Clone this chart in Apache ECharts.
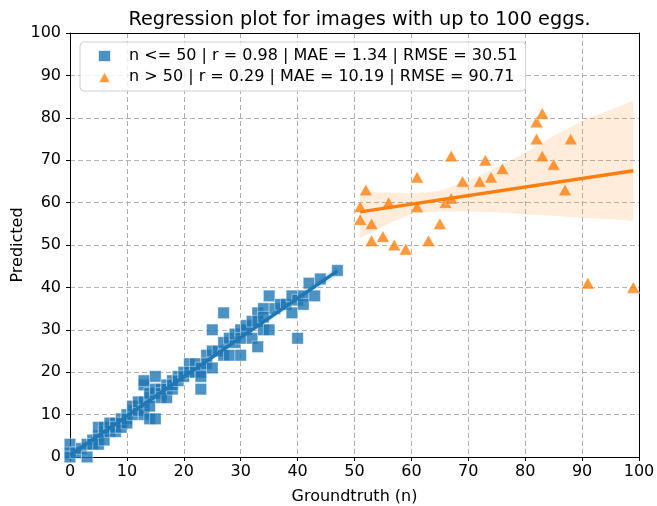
<!DOCTYPE html>
<html><head><meta charset="utf-8">
<script src="https://cdn.jsdelivr.net/npm/echarts@6/dist/echarts.min.js"></script>
<style>html,body{margin:0;padding:0;background:#fff}#c{width:657px;height:506px}</style>
</head><body><div id="c"></div>
<script>
// ---- data ----
const titleText = 'Regression plot for images with up to 100 eggs.';
const lowLabel = 'n <= 50 | r = 0.98 | MAE = 1.34 | RMSE = 30.51';
const highLabel = 'n > 50 | r = 0.29 | MAE = 10.19 | RMSE = 90.71';
const xTicks = [0,10,20,30,40,50,60,70,80,90,100];
const yTicks = [0,10,20,30,40,50,60,70,80,90,100];

const lowX = [0,0,0,1,2,3,3,4,4,5,5,5,6,6,6,7,7,7,8,8,8,9,9,9,10,10,10,11,11,11,12,12,12,13,13,13,13,13,14,14,14,14,15,15,15,15,16,16,16,17,17,17,18,18,18,19,19,20,20,21,21,22,22,23,23,23,23,24,24,25,25,25,26,27,27,27,28,28,29,29,30,30,30,31,31,32,32,33,33,33,34,34,34,35,35,36,37,38,39,39,40,40,41,41,42,43,44,47];
const lowY = [3,1,0,1,2,3,0,4,3,5,7,3,6,4,7,7,6,8,8,6,7,9,8,7,10,9,8,11,10,12,12,11,13,13,17,18,11,10,14,15,9,12,15,9,19,16,16,15,14,17,16,14,18,16,17,19,18,20,19,22,20,22,20,21,20,19,16,24,22,25,30,21,25,27,34,24,28,24,27,29,30,28,24,30,31,32,28,34,26,32,35,30,33,38,30,35,36,36,38,34,37,28,38,36,41,38,42,44];

const highX = [51,51,52,53,53,55,56,57,59,61,61,63,65,66,67,67,69,72,73,74,76,82,82,83,83,85,87,88,91,99];
const highY = [59,56,63,55,51,52,60,50,49,66,59,51,55,60,61,71,65,65,70,66,68,79,75,81,71,69,63,75,41,40];

// confidence band of the n > 50 fit
const bandX = [51,56,60.2,64.7,70.3,75.3,80.4,85.2,90.4,99];
const bandLow = [51.6,55.1,57.5,57.9,57.9,57.7,57.2,56.9,56.4,55.7];
const bandHigh = [62.4,62.4,62.2,62.7,65.3,68.5,72,75.9,79.5,84];

// ---- helpers ----
function fit(xs, ys){
  const n = xs.length;
  const mx = xs.reduce((a,b)=>a+b,0)/n, my = ys.reduce((a,b)=>a+b,0)/n;
  let sxx=0, sxy=0;
  for(let i=0;i<n;i++){sxx+=(xs[i]-mx)**2; sxy+=(xs[i]-mx)*(ys[i]-my);}
  const b = sxy/sxx, a = my-b*mx;
  let sse=0; for(let i=0;i<n;i++){sse+=(ys[i]-a-b*xs[i])**2;}
  const s = Math.sqrt(sse/(n-2));
  return {a,b,s,n,mx,sxx,xmin:Math.min(...xs),xmax:Math.max(...xs)};
}
const fLow = fit(lowX, lowY), fHigh = fit(highX, highY);
function lineOf(f){ return [[f.xmin, f.a+f.b*f.xmin],[f.xmax, f.a+f.b*f.xmax]]; }
function ciBand(f){
  const lo=[], hi=[];
  for(let k=0;k<=40;k++){
    const x = f.xmin + (f.xmax-f.xmin)*k/40;
    const y = f.a+f.b*x;
    const h = 1.98*f.s*Math.sqrt(1/f.n + (x-f.mx)**2/f.sxx);
    lo.push([x,y-h]); hi.push([x,y+h]);
  }
  return {lo,hi};
}
const lowBand = ciBand(fLow);
const highBand = {lo: bandX.map((x,i)=>[x,bandLow[i]]), hi: bandX.map((x,i)=>[x,bandHigh[i]])};

function bandSeries(band, color){
  return {
    type:'custom', silent:true, z:1,
    data:[[0,0]],
    renderItem:function(params, api){
      const pts = band.lo.map(p=>api.coord(p)).concat(band.hi.slice().reverse().map(p=>api.coord(p)));
      return {type:'polygon', shape:{points:pts}, style:{fill:color, stroke:null}};
    }
  };
}

const BLUE = '#1f77b4', ORANGE = '#ff7f0e';
const FONT = 'DejaVu Sans';
const axisCommon = {
  type:'value', min:0, max:100, interval:10,
  axisLine:{show:true, onZero:false, lineStyle:{color:'#000', width:1}},
  axisTick:{show:true, length:4, lineStyle:{color:'#000'}},
  splitLine:{show:true, lineStyle:{color:'#b0b0b0', width:1, type:[5,3]}}
};
const chart = echarts.init(document.getElementById('c'), null, {renderer:'canvas'});
chart.setOption({
  animation:false,
  backgroundColor:'#fff',
  title:{text:titleText, left:354.5, top:5, textAlign:'center',
    textStyle:{fontFamily:FONT, fontSize:19.3, fontWeight:'normal', color:'#000'}},
  grid:{left:70, right:18, top:33, bottom:49, containLabel:false, outerBoundsMode:'none'},
  legend:{
    orient:'vertical', left:80, top:42,
    itemWidth:13, itemHeight:12, itemGap:5,
    padding:[6,8,6,17],
    borderColor:'#d0d0d0', borderWidth:1, borderRadius:4,
    backgroundColor:'rgba(255,255,255,0.8)',
    textStyle:{fontFamily:FONT, fontSize:16, color:'#000', padding:[0,0,0,13]},
    data:[{name:lowLabel, icon:'rect'},{name:highLabel, icon:'triangle'}]
  },
  xAxis:[
    Object.assign({}, axisCommon, {
      min:xTicks[0], max:xTicks[xTicks.length-1], interval:xTicks[1]-xTicks[0],
      name:'Groundtruth (n)', nameLocation:'middle', nameGap:32, nameMoveOverlap:false,
      nameTextStyle:{fontFamily:FONT, fontSize:16, color:'#000'},
      axisLabel:{fontFamily:FONT, fontSize:16, color:'#000', margin:7}
    }),
    Object.assign({}, axisCommon, {position:'top', axisTick:{show:false}, axisLabel:{show:false}, splitLine:{show:false}})
  ],
  yAxis:[
    Object.assign({}, axisCommon, {
      min:yTicks[0], max:yTicks[yTicks.length-1], interval:yTicks[1]-yTicks[0],
      name:'Predicted', nameLocation:'middle', nameGap:44, nameRotate:90, nameMoveOverlap:false,
      nameTextStyle:{fontFamily:FONT, fontSize:16, color:'#000'},
      axisLabel:{fontFamily:FONT, fontSize:16, color:'#000', margin:9}
    }),
    Object.assign({}, axisCommon, {position:'right', axisTick:{show:false}, axisLabel:{show:false}, splitLine:{show:false}})
  ],
  series:[
    bandSeries(lowBand, 'rgba(31,119,180,0.15)'),
    bandSeries(highBand, 'rgba(255,127,14,0.15)'),
    {name:lowLabel, type:'scatter', z:3, symbol:'rect', symbolSize:11.5,
     data:lowX.map((x,i)=>[x,lowY[i]]),
     itemStyle:{color:BLUE, opacity:0.8, borderColor:'#fff', borderWidth:0.5}},
    {type:'line', z:4, data:lineOf(fLow), showSymbol:false, symbol:'none',
     lineStyle:{color:BLUE, width:3.5}},
    {name:highLabel, type:'scatter', z:3, symbol:'triangle', symbolSize:[13,11.5],
     data:highX.map((x,i)=>[x,highY[i]]),
     itemStyle:{color:ORANGE, opacity:0.8, borderColor:'#fff', borderWidth:0.5}},
    {type:'line', z:4, data:lineOf(fHigh), showSymbol:false, symbol:'none',
     lineStyle:{color:ORANGE, width:3.5}}
  ]
});
</script></body></html>
